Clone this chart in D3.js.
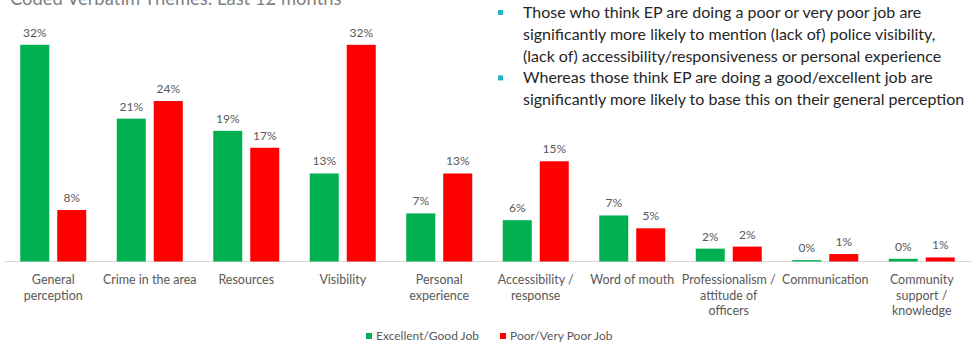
<!DOCTYPE html>
<html>
<head>
<meta charset="utf-8">
<script src="https://cdn.jsdelivr.net/npm/d3@7"></script>
<style>
  body { margin: 0; background: #fff; }
  svg { display: block; font-family: Lato, "Open Sans", sans-serif; }
</style>
</head>
<body>
<div id="chart"></div>
<script>
// categories, with the line breaks used on the axis
const categories = [
    "General perception", "Crime in the area", "Resources", "Visibility",
    "Personal experience", "Accessibility / response", "Word of mouth",
    "Professionalism / attitude of officers", "Communication",
    "Community support / knowledge"
];
const tickLines = [
    ["General", "perception"], ["Crime in the area"], ["Resources"], ["Visibility"],
    ["Personal", "experience"], ["Accessibility /", "response"], ["Word of mouth"],
    ["Professionalism /", "attitude of", "officers"], ["Communication"],
    ["Community", "support /", "knowledge"]
];

const seriesNames = ["Excellent/Good Job", "Poor/Very Poor Job"];
const seriesColors = ["#00b050", "#ff0000"];

// percentages
const goodJob = [32, 21.1, 19.3, 13, 7.1, 6.1, 6.8, 1.9, 0.2, 0.4];
const poorJob = [7.6, 23.7, 16.8, 32, 13, 14.8, 4.9, 2.2, 1.1, 0.6];

const title = "Coded Verbatim Themes: Last 12 months";
const bullets = [
    ["Those who think EP are doing a poor or very poor job are",
     "significantly more likely to mention (lack of) police visibility,",
     "(lack of) accessibility/responsiveness or personal experience"],
    ["Whereas those think EP are doing a good/excellent job are",
     "significantly more likely to base this on their general perception"]
];

const W = 973, H = 345;
const svg = d3.select("#chart").append("svg")
    .attr("width", W)
    .attr("height", H);

const x = d3.scaleBand().domain(categories).range([5, 970]).padding(0);
const gap = (x.bandwidth() - 66) / 2;
const x1 = d3.scaleBand().domain(seriesNames)
    .range([gap, x.bandwidth() - gap])
    .paddingInner(2 - 66 / 37);
const y = d3.scaleLinear().domain([0, 35]).range([261.5, 24.5]);

const rows = categories.map((c, i) => ({ cat: c, vals: [goodJob[i], poorJob[i]] }));

// title, cut at the top like the slide
svg.append("text")
    .attr("x", 10)
    .attr("y", 5)
    .style("font-size", "18.4px")
    .style("fill", "#7f7f7f")
    .text(title);

// bullet notes
let lineY = 18;
bullets.forEach(b => {
    svg.append("rect")
        .attr("x", 498).attr("y", lineY - 8)
        .attr("width", 5).attr("height", 5)
        .attr("fill", "#24b3c3");
    b.forEach(line => {
        svg.append("text")
            .attr("x", 523).attr("y", lineY)
            .style("font-size", "16px")
            .style("fill", "#262626")
            .text(line);
        lineY += 21.8;
    });
});

// axis baseline
svg.append("line")
    .attr("x1", 5).attr("x2", 972)
    .attr("y1", y(0)).attr("y2", y(0))
    .attr("stroke", "#d9d9d9");

const groups = svg.selectAll(".grp")
    .data(rows)
    .enter().append("g")
    .attr("class", "grp")
    .attr("transform", d => `translate(${x(d.cat)},0)`);

groups.selectAll("rect")
    .data(d => d.vals.map((v, j) => ({ s: seriesNames[j], v: v, c: seriesColors[j] })))
    .enter().append("rect")
    .attr("x", d => x1(d.s))
    .attr("width", x1.bandwidth())
    .attr("y", d => y(d.v))
    .attr("height", d => y(0) - y(d.v))
    .attr("fill", d => d.c);

groups.selectAll(".val")
    .data(d => d.vals.map((v, j) => ({ s: seriesNames[j], v: v })))
    .enter().append("text")
    .attr("class", "val")
    .attr("x", d => x1(d.s) + x1.bandwidth() / 2)
    .attr("y", d => y(d.v) - 8)
    .attr("text-anchor", "middle")
    .style("font-size", "12px")
    .style("fill", "#595959")
    .text(d => Math.round(d.v) + "%");

// category labels
groups.each(function(d, i) {
    const t = d3.select(this).append("text")
        .attr("text-anchor", "middle")
        .style("font-size", "12.5px")
        .style("fill", "#595959");
    tickLines[i].forEach((ln, k) => {
        t.append("tspan")
            .attr("x", x.bandwidth() / 2)
            .attr("y", 284 + k * 15.5)
            .text(ln);
    });
});

// legend
const legendX = [366, 500];
seriesNames.forEach((s, j) => {
    const g = svg.append("g").attr("transform", `translate(${legendX[j]},336)`);
    g.append("rect")
        .attr("x", 0).attr("y", -3)
        .attr("width", 6).attr("height", 6)
        .attr("fill", seriesColors[j]);
    g.append("text")
        .attr("x", 10).attr("y", 4)
        .style("font-size", "12px")
        .style("fill", "#595959")
        .text(s);
});
</script>
</body>
</html>
